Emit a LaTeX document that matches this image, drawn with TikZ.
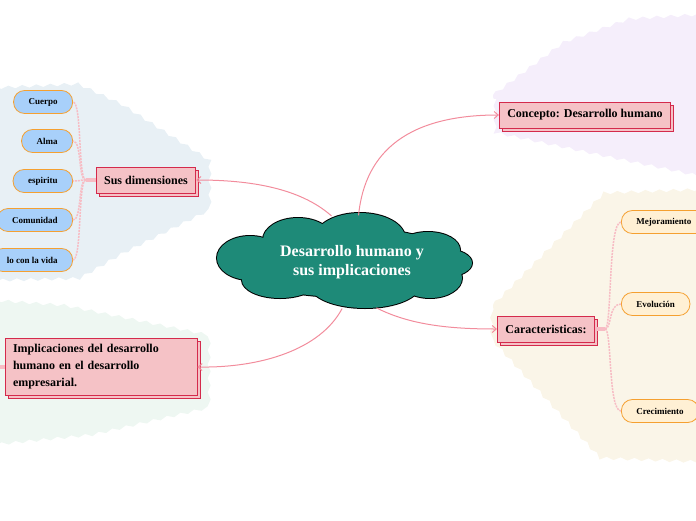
\documentclass[tikz,border=0pt]{standalone}
\usepackage{fontspec}
\setmainfont{Liberation Serif}
\usetikzlibrary{shapes.geometric,shadows,arrows.meta,decorations.pathmorphing}

\definecolor{cloudfill}{HTML}{1E8A78}
\definecolor{topicfill}{HTML}{F5C2C6}
\definecolor{topicline}{HTML}{D42A4C}
\definecolor{linkpink}{HTML}{F28C9C}
\definecolor{subline}{HTML}{F7BCC4}
\definecolor{bluefill}{HTML}{A8D0FA}
\definecolor{creamfill}{HTML}{FFF0D4}
\definecolor{orangeline}{HTML}{F5A030}
\definecolor{bgblue}{HTML}{E8F0F5}
\definecolor{bggreen}{HTML}{EEF7F2}
\definecolor{bgviolet}{HTML}{F5EEFB}
\definecolor{bgcream}{HTML}{FAF5E8}

\begin{document}
\begin{tikzpicture}[
    x=1pt, y=-1pt,
    % Define region, topic and subtopic styles
    region/.style={decorate, decoration={snake, segment length=14pt, amplitude=1.5pt}},
    topic/.style={draw=topicline, fill=topicfill, thick, inner xsep=8pt, minimum height=26pt,
        font=\bfseries\fontsize{12}{14}\selectfont,
        copy shadow={shadow xshift=3pt, shadow yshift=-3pt, fill=topicfill, draw=topicline, thick}},
    subtopic/.style={draw=orangeline, thick, rounded corners=11pt, minimum height=23pt,
        inner xsep=15pt, font=\bfseries\fontsize{9}{11}\selectfont},
    link/.style={linkpink, line width=1pt, -{Straight Barb[length=4pt, width=7pt]}},
    sublink/.style={subline, line width=1.5pt, dash pattern=on 2pt off 1pt},
    stub/.style={subline, line width=3.5pt}
]

% Page frame
\clip (0,0) rectangle (696,520);

% Background regions behind each branch
\fill[bgblue, region] (-10,88) -- (75,84) -- (120,105) -- (206,160) -- (206,212)
    -- (120,255) -- (77,280) -- (-10,282) -- cycle;
\fill[bggreen, region] (-10,300) -- (60,305) -- (206,335) -- (206,405)
    -- (90,432) -- (-10,442) -- cycle;
\fill[bgviolet, region] (493,95) -- (560,45) -- (630,20) -- (710,15) -- (710,186)
    -- (610,165) -- (540,150) -- (493,140) -- cycle;
\fill[bgcream, region] (493,305) -- (600,197) -- (710,193) -- (710,466)
    -- (600,462) -- (493,345) -- cycle;

% Central idea: a cloud made of puffs (outline first, then the fill on top)
\def\puffs{250/258/33/22, 298/240/35/22, 360/238/45/25, 428/250/32/18, 445/263/27/14,
    430/278/32/20, 365/285/55/23, 280/280/38/18, 345/262/110/35}
\foreach \cx/\cy/\rx/\ry in \puffs
    \draw[black, line width=2pt] (\cx,\cy) ellipse ({\rx pt} and {\ry pt});
\foreach \cx/\cy/\rx/\ry in \puffs
    \fill[cloudfill] (\cx,\cy) ellipse ({\rx pt} and {\ry pt});
\node[ellipse, minimum width=254pt, minimum height=93pt, text=white, align=center,
    font=\bfseries\fontsize{16}{19}\selectfont] (core) at (352,262)
    {Desarrollo humano y\\ sus implicaciones};

% Main topics
\node[topic] (concept) at (585,115) {Concepto: Desarrollo humano};
\node[topic] (dims) at (146,180) {Sus dimensiones};
\node[topic] (traits) at (546,329) {Caracteristicas:};
\node[topic, align=left, text width=176pt, minimum height=57pt,
    font=\bfseries\fontsize{12}{17}\selectfont] (impl) at (101,367)
    {Implicaciones del desarrollo\\ humano en el desarrollo\\ empresarial.};

% Links from the central idea
\draw[link] (core.82) .. controls (365,150) and (410,115) .. (concept.west);
\draw[link] (core.114) .. controls (300,188) and (250,180) .. (dims.east);
\draw[link] (core.-102) .. controls (320,350) and (260,368) .. (impl.east);
\draw[link] (core.-62) .. controls (410,325) and (450,329) .. (traits.west);

% Hubs for the subtopics
\coordinate (dimshub) at ([xshift=-10pt]dims.west);
\coordinate (traitshub) at ([xshift=10pt]traits.east);
\coordinate (implout) at ([xshift=-12pt]impl.west);
\draw[stub] (dims.west) -- (dimshub);
\draw[stub] (traits.east) -- (traitshub);
\draw[stub] (impl.west) -- (implout);

% Dimensions
\foreach \name/\txt/\y in {cuerpo/Cuerpo/102, alma/Alma/141, espiritu/espiritu/181,
    comunidad/Comunidad/220, vida/lo con la vida/260} {
    \node[subtopic, fill=bluefill, anchor=east] (\name) at (73,\y) {\txt};
    \draw[sublink] (dimshub) .. controls (78,180) and (82,\y) .. (\name.east);
}

% Characteristics
\foreach \name/\txt/\y in {mejora/Mejoramiento/222, evol/Evolución/304, crec/Crecimiento/411} {
    \node[subtopic, fill=creamfill, anchor=west] (\name) at (621,\y) {\txt};
    \draw[sublink] (traitshub) .. controls (612,329) and (608,\y) .. (\name.west);
}

\end{tikzpicture}
\end{document}
